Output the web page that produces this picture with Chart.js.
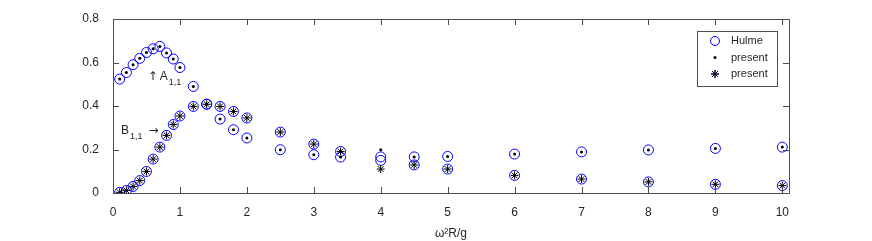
<!DOCTYPE html>
<html>
<head>
<meta charset="utf-8">
<script src="https://cdn.jsdelivr.net/npm/chart.js@4.4.1/dist/chart.umd.min.js"></script>
<style>
    html, body { margin: 0; padding: 0; background: #fff; }
    #wrap { width: 872px; height: 241px; }
</style>
</head>
<body>
<div id="wrap"><canvas id="chart" width="872" height="241"></canvas></div>
<script>
// omega^2 R / g values
const omega = [0.1, 0.2, 0.3, 0.4, 0.5, 0.6, 0.7, 0.8, 0.9, 1.0, 1.2, 1.4, 1.6, 1.8, 2.0, 2.5, 3, 3.4, 4, 4.5, 5, 6, 7, 8, 9, 10];

// Hulme A_{1,1} and B_{1,1}
const hulmeA = [0.524, 0.554, 0.590, 0.619, 0.646, 0.663, 0.674, 0.644, 0.616, 0.577, 0.490, 0.409, 0.340, 0.291, 0.253, 0.199, 0.176, 0.165, 0.150, 0.166, 0.168, 0.179, 0.189, 0.198, 0.205, 0.211];
const hulmeB = [0.003, 0.012, 0.030, 0.057, 0.099, 0.156, 0.211, 0.265, 0.315, 0.354, 0.398, 0.408, 0.398, 0.375, 0.345, 0.280, 0.225, 0.191, 0.166, 0.129, 0.110, 0.081, 0.064, 0.051, 0.040, 0.034];

// present results
const presentA = [0.524, 0.554, 0.590, 0.619, 0.646, 0.663, 0.674, 0.644, 0.616, 0.577, 0.490, 0.409, 0.340, 0.291, 0.253, 0.199, 0.176, 0.165, 0.199, 0.166, 0.168, 0.179, 0.189, 0.198, 0.205, 0.211];
const presentB = [0.003, 0.012, 0.030, 0.057, 0.099, 0.156, 0.211, 0.265, 0.315, 0.354, 0.398, 0.408, 0.398, 0.375, 0.345, 0.280, 0.225, 0.191, 0.110, 0.129, 0.110, 0.081, 0.064, 0.051, 0.040, 0.034];

const xTicks = [0, 1, 2, 3, 4, 5, 6, 7, 8, 9, 10];
const yTicks = [0, 0.2, 0.4, 0.6, 0.8];
const legendLabels = ['Hulme', 'present', 'present'];

const FONT = '"Liberation Sans", Arial, sans-serif';
const ARROWFONT = '"DejaVu Sans", sans-serif';
const AXIS = '#4d4d4d';
const TEXT = '#262626';

function pts(xs, ys) {
    return xs.map((x, i) => ({ x: x, y: ys[i] }));
}

// box + inward ticks, annotations, legend
const decorPlugin = {
    id: 'decor',
    afterDatasetsDraw(chart) {
        const ctx = chart.ctx;
        const a = chart.chartArea;
        const xs = chart.scales.x;
        const ys = chart.scales.y;
        ctx.save();
        ctx.strokeStyle = AXIS;
        ctx.lineWidth = 1;
        ctx.beginPath();
        ctx.rect(a.left + 0.5, a.top + 0.5, a.right - a.left, a.bottom - a.top);
        ctx.stroke();
        ctx.beginPath();
        xTicks.forEach(v => {
            const px = Math.round(xs.getPixelForValue(v)) + 0.5;
            ctx.moveTo(px, a.bottom); ctx.lineTo(px, a.bottom - 6);
            ctx.moveTo(px, a.top); ctx.lineTo(px, a.top + 6);
        });
        yTicks.forEach(v => {
            const py = Math.round(ys.getPixelForValue(v)) + 0.5;
            ctx.moveTo(a.left, py); ctx.lineTo(a.left + 6, py);
            ctx.moveTo(a.right, py); ctx.lineTo(a.right - 6, py);
        });
        ctx.stroke();

        // annotations
        ctx.fillStyle = TEXT;
        ctx.textBaseline = 'middle';
        function label(x, y, pre, main, sub, post) {
            let px = xs.getPixelForValue(x);
            const py = ys.getPixelForValue(y);
            if (pre) {
                ctx.font = '12px ' + ARROWFONT;
                ctx.fillText(pre, px, py);
                px += ctx.measureText(pre).width + 2;
            }
            ctx.font = '12px ' + FONT;
            ctx.fillText(main, px, py);
            px += ctx.measureText(main).width + 1;
            ctx.font = '9px ' + FONT;
            ctx.fillText(sub, px, py + 6);
            px += ctx.measureText(sub).width + 6;
            if (post) { ctx.font = '12px ' + ARROWFONT; ctx.fillText(post, px, py); }
        }
        label(0.52, 0.535, '\u2191', 'A', '1,1', null);
        label(0.12, 0.286, null, 'B', '1,1', '\u2192');

        // legend
        const lx = 697, ly = 31, lw = 80, lh = 55;
        ctx.fillStyle = '#fff';
        ctx.fillRect(lx, ly, lw, lh);
        ctx.strokeStyle = AXIS;
        ctx.strokeRect(lx + 0.5, ly + 0.5, lw, lh);
        const rows = [41, 57.5, 74];
        const mx = 715;
        ctx.strokeStyle = '#0000ff';
        ctx.beginPath();
        ctx.arc(mx, rows[0], 4.5, 0, Math.PI * 2);
        ctx.stroke();
        ctx.fillStyle = '#000';
        ctx.beginPath();
        ctx.arc(mx, rows[1], 1.5, 0, Math.PI * 2);
        ctx.fill();
        Chart.helpers.drawPoint(ctx, { pointStyle: 'star', radius: 4, rotation: 0, borderWidth: 1 }, mx, rows[2]);
        ctx.strokeStyle = '#000';
        ctx.stroke();
        ctx.fillStyle = TEXT;
        ctx.font = '11px ' + FONT;
        ctx.textBaseline = 'middle';
        legendLabels.forEach((t, i) => ctx.fillText(t, 731, rows[i]));
        ctx.restore();
    }
};

new Chart(document.getElementById('chart'), {
    type: 'scatter',
    data: {
        datasets: [
            {
                label: 'present', data: pts(omega, presentB), order: 0,
                pointStyle: 'star', pointRadius: 4, borderColor: '#000', backgroundColor: '#000', pointBorderWidth: 1
            },
            {
                label: 'present', data: pts(omega, presentA), order: 1,
                pointStyle: 'circle', pointRadius: 1.5, borderColor: '#000', backgroundColor: '#000', pointBorderWidth: 0
            },
            {
                label: 'Hulme', data: pts(omega, hulmeA), order: 2,
                pointStyle: 'circle', pointRadius: 5, borderColor: '#0000ff', backgroundColor: 'rgba(0,0,0,0)', pointBorderWidth: 1
            },
            {
                label: 'Hulme', data: pts(omega, hulmeB), order: 2,
                pointStyle: 'circle', pointRadius: 5, borderColor: '#0000ff', backgroundColor: 'rgba(0,0,0,0)', pointBorderWidth: 1
            }
        ]
    },
    options: {
        responsive: false,
        animation: false,
        devicePixelRatio: 1,
        layout: { padding: { left: 0, right: 83, top: 19, bottom: 0 } },
        plugins: {
            legend: { display: false },
            tooltip: { enabled: false }
        },
        scales: {
            x: {
                type: 'linear',
                min: 0,
                max: 10.1,
                afterBuildTicks: s => { s.ticks = xTicks.map(v => ({ value: v })); },
                afterFit: s => { s.height = 48; },
                grid: { display: false },
                border: { display: false },
                ticks: { color: TEXT, font: { family: FONT, size: 12 }, padding: 4, maxRotation: 0 },
                title: {
                    display: true,
                    text: '\u03c9\u00b2R/g',
                    color: TEXT,
                    font: { family: FONT, size: 12 },
                    padding: { top: 2, bottom: 0 }
                }
            },
            y: {
                type: 'linear',
                min: 0,
                max: 0.8,
                afterBuildTicks: s => { s.ticks = yTicks.map(v => ({ value: v })); },
                afterFit: s => { s.width = 113; },
                grid: { display: false },
                border: { display: false },
                ticks: { color: TEXT, font: { family: FONT, size: 12 }, padding: 6, callback: v => String(v) }
            }
        }
    },
    plugins: [decorPlugin]
});
</script>
</body>
</html>
